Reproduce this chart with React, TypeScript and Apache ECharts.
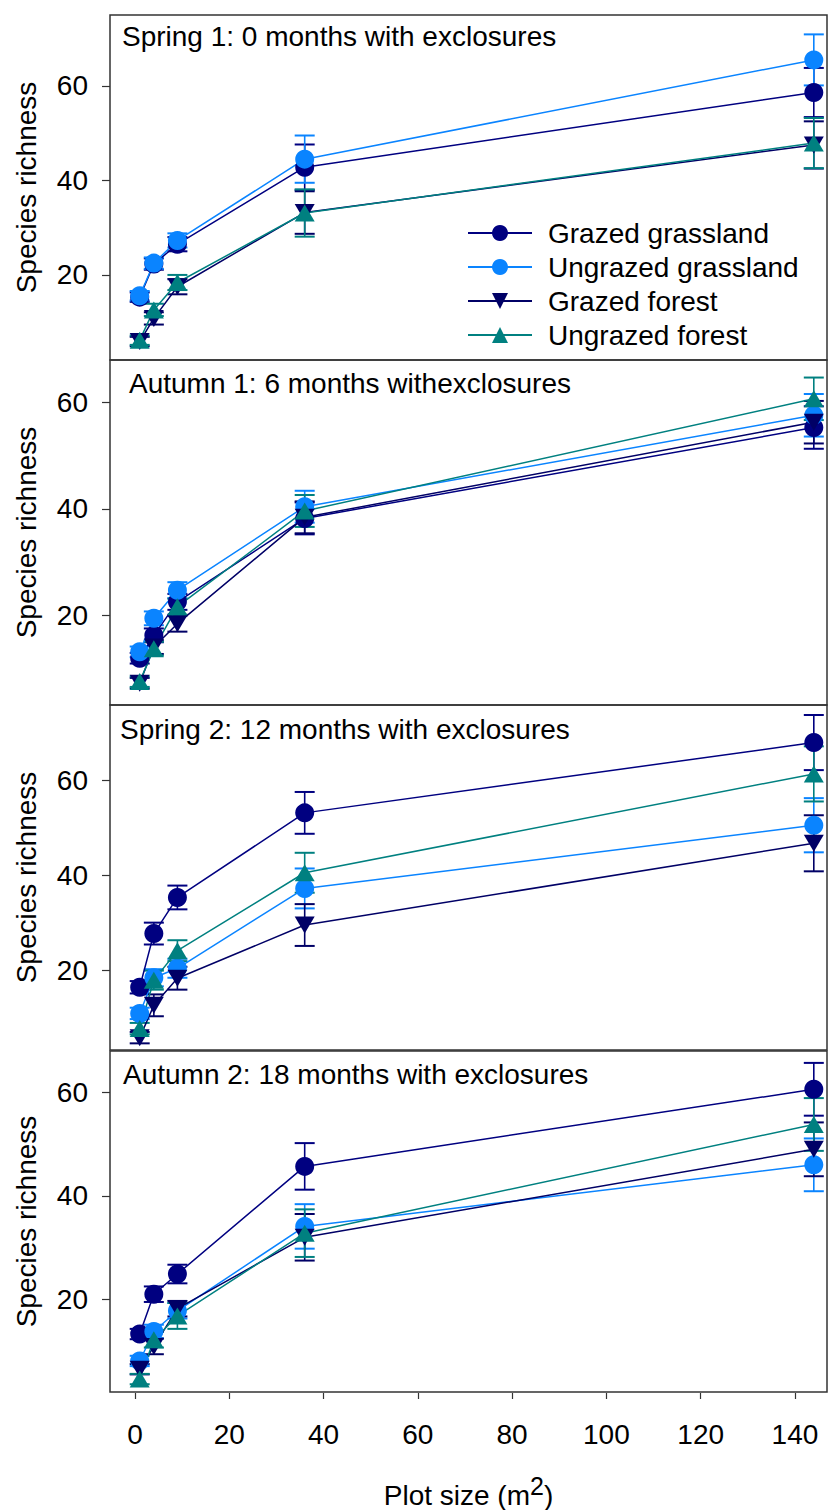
import React, { useEffect, useRef } from "react";
import * as echarts from "echarts";

// ---------- data ----------
const plotSizes = [1, 4, 9, 36, 144];
const seriesNames = ["Grazed grassland", "Ungrazed grassland", "Grazed forest", "Ungrazed forest"];
const panelTitles = [
  "Spring 1: 0 months with exclosures",
  "Autumn 1: 6 months withexclosures",
  "Spring 2: 12 months with exclosures",
  "Autumn 2: 18 months with exclosures",
];
const xTickValues = [0, 20, 40, 60, 80, 100, 120, 140];
const yTickValues = [20, 40, 60];

// Spring 1
const s1GrazedGrassland = [15.3, 22.3, 26.5, 42.8, 58.6];
const s1GrazedGrasslandErr = [1.0, 1.2, 1.5, 4.8, 5.2];
const s1UngrazedGrassland = [15.6, 22.5, 27.3, 44.5, 65.5];
const s1UngrazedGrasslandErr = [1.0, 1.2, 1.5, 5.0, 5.4];
const s1GrazedForest = [5.9, 10.8, 17.5, 33.2, 47.5];
const s1GrazedForestErr = [1.0, 1.3, 1.6, 4.5, 5.0];
const s1UngrazedForest = [6.2, 12.6, 18.4, 33.1, 47.9];
const s1UngrazedForestErr = [1.0, 1.3, 1.6, 5.0, 5.3];

// Autumn 1
const a1GrazedGrassland = [11.9, 16.2, 22.5, 38.2, 55.3];
const a1GrazedGrasslandErr = [1.0, 1.3, 1.5, 3.0, 4.0];
const a1UngrazedGrassland = [13.1, 19.4, 24.7, 40.4, 57.6];
const a1UngrazedGrasslandErr = [1.0, 1.3, 1.5, 3.0, 4.0];
const a1GrazedForest = [7.2, 14.0, 18.4, 38.4, 56.3];
const a1GrazedForestErr = [1.0, 1.3, 1.5, 3.0, 4.0];
const a1UngrazedForest = [7.5, 13.7, 21.6, 39.6, 60.7];
const a1UngrazedForestErr = [1.0, 1.3, 1.5, 3.0, 4.0];

// Spring 2
const s2GrazedGrassland = [16.4, 27.7, 35.3, 53.1, 67.9];
const s2GrazedGrasslandErr = [1.3, 2.3, 2.5, 4.4, 5.8];
const s2UngrazedGrassland = [10.9, 18.4, 20.4, 37.2, 50.5];
const s2UngrazedGrasslandErr = [1.2, 1.8, 2.0, 4.2, 5.7];
const s2GrazedForest = [5.8, 12.6, 18.3, 29.5, 46.7];
const s2GrazedForestErr = [1.2, 2.3, 2.4, 4.4, 5.9];
const s2UngrazedForest = [7.7, 17.9, 24.1, 40.5, 61.3];
const s2UngrazedForestErr = [1.2, 2.0, 2.2, 4.2, 5.8];

// Autumn 2
const a2GrazedGrassland = [13.3, 21.0, 24.9, 45.7, 60.6];
const a2GrazedGrasslandErr = [1.0, 1.5, 1.8, 4.5, 5.1];
const a2UngrazedGrassland = [8.1, 13.8, 17.8, 34.1, 46.0];
const a2UngrazedGrasslandErr = [1.0, 1.3, 1.5, 4.3, 5.1];
const a2GrazedForest = [6.5, 10.9, 18.2, 32.0, 49.0];
const a2GrazedForestErr = [1.0, 1.5, 1.5, 4.5, 5.2];
const a2UngrazedForest = [4.6, 12.2, 16.8, 32.8, 53.8];
const a2UngrazedForestErr = [1.0, 1.5, 2.5, 4.6, 5.1];

const panelMeans = [
  [s1GrazedGrassland, s1UngrazedGrassland, s1GrazedForest, s1UngrazedForest],
  [a1GrazedGrassland, a1UngrazedGrassland, a1GrazedForest, a1UngrazedForest],
  [s2GrazedGrassland, s2UngrazedGrassland, s2GrazedForest, s2UngrazedForest],
  [a2GrazedGrassland, a2UngrazedGrassland, a2GrazedForest, a2UngrazedForest],
];
const panelErrs = [
  [s1GrazedGrasslandErr, s1UngrazedGrasslandErr, s1GrazedForestErr, s1UngrazedForestErr],
  [a1GrazedGrasslandErr, a1UngrazedGrasslandErr, a1GrazedForestErr, a1UngrazedForestErr],
  [s2GrazedGrasslandErr, s2UngrazedGrasslandErr, s2GrazedForestErr, s2UngrazedForestErr],
  [a2GrazedGrasslandErr, a2UngrazedGrasslandErr, a2GrazedForestErr, a2UngrazedForestErr],
];

// ---------- layout & styles ----------
const FONT = "'Liberation Sans', Arial, Helvetica, sans-serif";
const FS = 28;
const yRanges = [
  [2.0, 75.0],
  [3.1, 68.0],
  [3.2, 75.8],
  [2.1, 68.0],
];
const xRange = [-5.3, 146.8];
const gridLeft = 110;
const gridRight = 1;
const panelTops = [15, 360, 705, 1051];
const panelHeight = 345;
const titlePos = [
  [122, 22],
  [129, 369],
  [120, 715],
  [123, 1060],
];
const colors = ["#000080", "#0A84FF", "#000066", "#008080"];
const symbols = ["circle", "circle", "triangle", "triangle"];
const symbolRotates = [0, 0, 180, 0];
const symbolSizes: any[] = [19, 19, [20, 17], [20, 17]];

export default function App() {
  const ref = useRef<HTMLDivElement>(null);

  useEffect(() => {
    if (!ref.current) return;
    const chart = echarts.init(ref.current, undefined, { renderer: "svg" });

    const grids: any[] = [];
    const xAxes: any[] = [];
    const yAxes: any[] = [];
    const series: any[] = [];
    const titles: any[] = [];

    for (let p = 0; p < 4; p++) {
      grids.push({
        left: gridLeft,
        right: gridRight,
        top: panelTops[p],
        height: panelHeight,
        show: true,
        borderColor: "#333",
        borderWidth: 1.5,
        backgroundColor: "transparent",
      });
      const isBottom = p === 3;
      xAxes.push({
        type: "value",
        gridIndex: p,
        min: xRange[0],
        max: xRange[1],
        show: isBottom,
        offset: 1,
        splitLine: { show: false },
        axisLine: { show: false, onZero: false },
        axisTick: {
          show: true,
          length: 6,
          customValues: xTickValues,
          lineStyle: { color: "#333", width: 1.2 },
        },
        axisLabel: {
          show: true,
          customValues: xTickValues,
          fontSize: FS,
          fontFamily: FONT,
          color: "#000",
          margin: 27,
        },
        name: isBottom ? "{a|Plot size (m}{b|2}{a|)}" : "",
        nameLocation: "middle",
        nameGap: 80,
        nameTextStyle: {
          rich: {
            a: { fontSize: FS, fontFamily: FONT, color: "#000", verticalAlign: "bottom" },
            b: { fontSize: 25, fontFamily: FONT, color: "#000", verticalAlign: "bottom", padding: [0, 0, 11, 0] },
          },
        },
      });
      yAxes.push({
        type: "value",
        gridIndex: p,
        min: yRanges[p][0],
        max: yRanges[p][1],
        splitLine: { show: false },
        axisLine: { show: false, onZero: false },
        axisTick: {
          show: true,
          length: 8,
          customValues: yTickValues,
          lineStyle: { color: "#333", width: 1.2 },
        },
        axisLabel: {
          customValues: yTickValues,
          fontSize: FS,
          fontFamily: FONT,
          color: "#000",
          margin: 22,
        },
        name: "Species richness",
        nameLocation: "middle",
        nameGap: 70,
        nameTextStyle: { fontSize: FS, fontFamily: FONT, color: "#000" },
      });
      titles.push({
        text: panelTitles[p],
        left: titlePos[p][0],
        top: titlePos[p][1],
        padding: 0,
        textStyle: { fontSize: FS, fontFamily: FONT, fontWeight: "normal", color: "#000", lineHeight: FS },
      });

      for (let s = 0; s < 4; s++) {
        const means = panelMeans[p][s];
        const errs = panelErrs[p][s];
        const color = colors[s];
        series.push({
          type: "custom",
          name: "err-" + p + "-" + s,
          xAxisIndex: p,
          yAxisIndex: p,
          coordinateSystem: "cartesian2d",
          encode: { x: 0, y: [1, 2] },
          data: plotSizes.map((x, i) => [x, means[i] - errs[i], means[i] + errs[i]]),
          renderItem: (params: any, api: any) => {
            const x = api.value(0);
            const lo = api.coord([x, api.value(1)]);
            const hi = api.coord([x, api.value(2)]);
            const hw = 10;
            const style = { stroke: color, lineWidth: 1.6, fill: null };
            return {
              type: "group",
              children: [
                { type: "line", shape: { x1: lo[0], y1: lo[1], x2: hi[0], y2: hi[1] }, style },
                { type: "line", shape: { x1: hi[0] - hw, y1: hi[1], x2: hi[0] + hw, y2: hi[1] }, style: { ...style, lineWidth: 2 } },
                { type: "line", shape: { x1: lo[0] - hw, y1: lo[1], x2: lo[0] + hw, y2: lo[1] }, style: { ...style, lineWidth: 2 } },
              ],
            };
          },
          silent: true,
        });
        series.push({
          type: "line",
          name: seriesNames[s],
          xAxisIndex: p,
          yAxisIndex: p,
          data: plotSizes.map((x, i) => [x, means[i]]),
          symbol: symbols[s],
          symbolSize: symbolSizes[s],
          symbolRotate: symbolRotates[s],
          showSymbol: true,
          lineStyle: { color, width: 1.5 },
          itemStyle: { color },
          emphasis: { disabled: true },
        });
      }
    }

    chart.setOption({
      animation: false,
      backgroundColor: "#fff",
      title: titles,
      legend: {
        data: seriesNames,
        orient: "vertical",
        left: 467,
        top: 218,
        padding: 0,
        itemWidth: 64,
        itemHeight: 20,
        itemGap: 4,
        selectedMode: false,
        textStyle: { fontSize: FS, fontFamily: FONT, color: "#000", lineHeight: 30, padding: [0, 0, 0, 11] },
      },
      grid: grids,
      xAxis: xAxes,
      yAxis: yAxes,
      series,
    });

    return () => chart.dispose();
  }, []);

  return (
    <div
      ref={ref}
      style={{ position: "absolute", left: 0, top: 0, width: 828, height: 1510, background: "#fff" }}
    />
  );
}
